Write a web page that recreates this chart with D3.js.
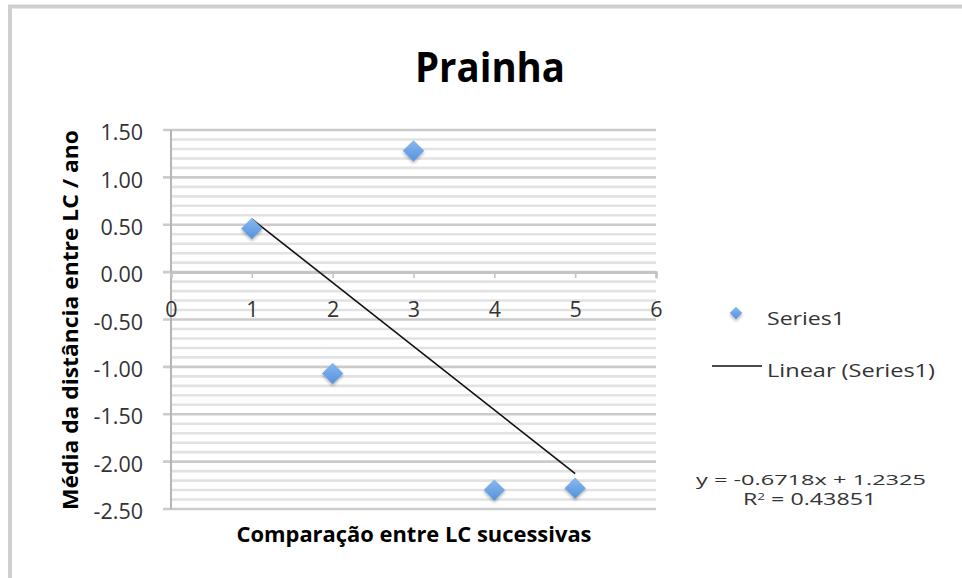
<!DOCTYPE html>
<html>
<head>
<meta charset="utf-8">
<script src="https://cdn.jsdelivr.net/npm/d3@7"></script>
<style>
  html, body { margin: 0; padding: 0; background: #fff; }
  svg { display: block; }
</style>
</head>
<body>
<svg id="chart" width="962" height="578"></svg>
<script>
// ---- data ----
const chartTitle = "Prainha";
const xTitle = "Comparação entre LC sucessivas";
const yTitle = "Média da distância entre LC / ano";
const xValues = [1, 2, 3, 4, 5];
const yValues = [0.46, -1.07, 1.28, -2.30, -2.28];
const xTicks = [0, 1, 2, 3, 4, 5, 6];
const yTicks = [1.5, 1.0, 0.5, 0.0, -0.5, -1.0, -1.5, -2.0, -2.5];
const trendSlope = -0.6718;
const trendIntercept = 1.2325;
const trendR2 = "0.43851";
const seriesName = "Series1";
const trendName = "Linear (Series1)";

// ---- layout ----
const svg = d3.select("#chart");
const font = "'Open Sans', 'DejaVu Sans', sans-serif";
const plot = { left: 171, right: 656, top: 130, bottom: 509 };
const loc = d3.formatLocale({ decimal: ".", thousands: ",", grouping: [3], currency: ["", ""], minus: "-" });

const x = d3.scaleLinear().domain([0, 6]).range([plot.left, plot.right]);
const y = d3.scaleLinear().domain([-2.5, 1.5]).range([plot.bottom, plot.top]);

// chart border (partially visible frame)
svg.append("line").attr("x1", 8).attr("x2", 962).attr("y1", 6.5).attr("y2", 6.5)
  .attr("stroke", "#cfcfcf").attr("stroke-width", 4);
svg.append("line").attr("x1", 10).attr("x2", 10).attr("y1", 5).attr("y2", 578)
  .attr("stroke", "#cfcfcf").attr("stroke-width", 4);

// defs
const defs = svg.append("defs");
const grad = defs.append("linearGradient").attr("id", "mk").attr("x1", 0).attr("y1", 0).attr("x2", 0).attr("y2", 1);
grad.append("stop").attr("offset", "0%").attr("stop-color", "#88b9ef");
grad.append("stop").attr("offset", "100%").attr("stop-color", "#5592dc");
const filt = defs.append("filter").attr("id", "sh").attr("x", "-50%").attr("y", "-50%").attr("width", "200%").attr("height", "200%");
filt.append("feGaussianBlur").attr("in", "SourceAlpha").attr("stdDeviation", 1.6).attr("result", "b");
filt.append("feOffset").attr("in", "b").attr("dx", 0).attr("dy", 2).attr("result", "o");
filt.append("feComponentTransfer").attr("in", "o").attr("result", "o2")
  .append("feFuncA").attr("type", "linear").attr("slope", 0.3);
const fm = filt.append("feMerge");
fm.append("feMergeNode").attr("in", "o2");
fm.append("feMergeNode").attr("in", "SourceGraphic");

// minor gridlines (every 0.1)
const minorTicks = d3.range(-25, 16).map(d => d / 10).filter(v => Math.abs(Math.round(v * 2) - v * 2) > 1e-6);
svg.append("g").selectAll("line").data(minorTicks).join("line")
  .attr("x1", plot.left).attr("x2", plot.right)
  .attr("y1", d => y(d)).attr("y2", d => y(d))
  .attr("stroke", "#e2e2e2").attr("stroke-width", 2.6);

// major gridlines
svg.append("g").selectAll("line").data(yTicks).join("line")
  .attr("x1", plot.left - 8).attr("x2", plot.right)
  .attr("y1", d => y(d)).attr("y2", d => y(d))
  .attr("stroke", "#cbcbcb").attr("stroke-width", 2.6);

// y axis
const yAxis = d3.axisLeft(y).tickValues(yTicks).tickFormat(loc.format(".2f")).tickSize(0).tickPadding(28);
const gy = svg.append("g").attr("transform", `translate(${plot.left},0)`).call(yAxis);
gy.select(".domain").remove();
gy.selectAll("text").attr("font-family", font).attr("font-size", 21.5).attr("fill", "#333").attr("dy", "0.45em");
svg.append("line").attr("x1", plot.left).attr("x2", plot.left).attr("y1", plot.top).attr("y2", plot.bottom)
  .attr("stroke", "#b5b5b5").attr("stroke-width", 2);

// x axis at y = 0
const xAxis = d3.axisBottom(x).tickValues(xTicks).tickFormat(loc.format("d")).tickSize(6).tickPadding(24);
const gx = svg.append("g").attr("transform", `translate(0,${y(0)})`).call(xAxis);
gx.select(".domain").attr("stroke", "#c4c4c4").attr("stroke-width", 2.6);
gx.selectAll(".tick line").attr("stroke", "#c4c4c4").attr("stroke-width", 1.6);
gx.selectAll("text").attr("font-family", font).attr("font-size", 21.5).attr("fill", "#333");

// trendline
const trendX = [d3.min(xValues), d3.max(xValues)];
svg.append("path")
  .datum(trendX.map(v => [v, trendSlope * v + trendIntercept]))
  .attr("d", d3.line().x(d => x(d[0])).y(d => y(d[1])))
  .attr("stroke", "#111").attr("stroke-width", 1.6).attr("fill", "none");

// markers
const diamond = d3.symbol().type(d3.symbolDiamond2).size(290);
svg.append("g").selectAll("path").data(xValues.map((v, i) => [v, yValues[i]])).join("path")
  .attr("d", diamond)
  .attr("transform", d => `translate(${x(d[0])},${y(d[1])})`)
  .attr("fill", "url(#mk)").attr("filter", "url(#sh)");

// title
svg.append("text").attr("x", 490).attr("y", 82).attr("text-anchor", "middle")
  .attr("font-family", font).attr("font-weight", "bold").attr("font-size", 41).attr("fill", "#000")
  .attr("textLength", 150).attr("lengthAdjust", "spacingAndGlyphs")
  .text(chartTitle);

// axis titles
svg.append("text").attr("x", 414).attr("y", 542).attr("text-anchor", "middle")
  .attr("font-family", font).attr("font-weight", "bold").attr("font-size", 21).attr("fill", "#000")
  .attr("textLength", 355).attr("lengthAdjust", "spacingAndGlyphs")
  .text(xTitle);
svg.append("text").attr("transform", `translate(78,320) rotate(-90)`)
  .attr("text-anchor", "middle")
  .attr("font-family", font).attr("font-weight", "bold").attr("font-size", 22).attr("fill", "#000")
  .attr("textLength", 380).attr("lengthAdjust", "spacingAndGlyphs")
  .text(yTitle);

// legend
const legend = svg.append("g");
legend.append("path").attr("d", d3.symbol().type(d3.symbolDiamond2).size(100))
  .attr("transform", "translate(736,313)").attr("fill", "url(#mk)").attr("filter", "url(#sh)");
legend.append("text").attr("x", 767).attr("y", 325)
  .attr("font-family", font).attr("font-size", 18.5).attr("fill", "#333")
  .attr("textLength", 78).attr("lengthAdjust", "spacingAndGlyphs").text(seriesName);
legend.append("line").attr("x1", 712).attr("x2", 762).attr("y1", 366).attr("y2", 366)
  .attr("stroke", "#111").attr("stroke-width", 1.6);
legend.append("text").attr("x", 767).attr("y", 377)
  .attr("font-family", font).attr("font-size", 18.5).attr("fill", "#333")
  .attr("textLength", 168).attr("lengthAdjust", "spacingAndGlyphs").text(trendName);

// equation
const fmtCoef = loc.format(".4f");
svg.append("text").attr("x", 696).attr("y", 485)
  .attr("font-family", font).attr("font-size", 15).attr("fill", "#333")
  .attr("textLength", 230).attr("lengthAdjust", "spacingAndGlyphs")
  .text(`y = ${fmtCoef(trendSlope)}x + ${fmtCoef(trendIntercept)}`);
const r2 = svg.append("g").attr("transform", "translate(743,505) scale(1.5,1)");
const r2t = r2.append("text").attr("x", 0).attr("y", 0)
  .attr("font-family", font).attr("font-size", 15.5).attr("fill", "#333");
r2t.append("tspan").text("R");
r2t.append("tspan").attr("font-size", 9).attr("dy", -5).text("2");
r2t.append("tspan").attr("dy", 5).text(` = ${trendR2}`);
</script>
</body>
</html>
